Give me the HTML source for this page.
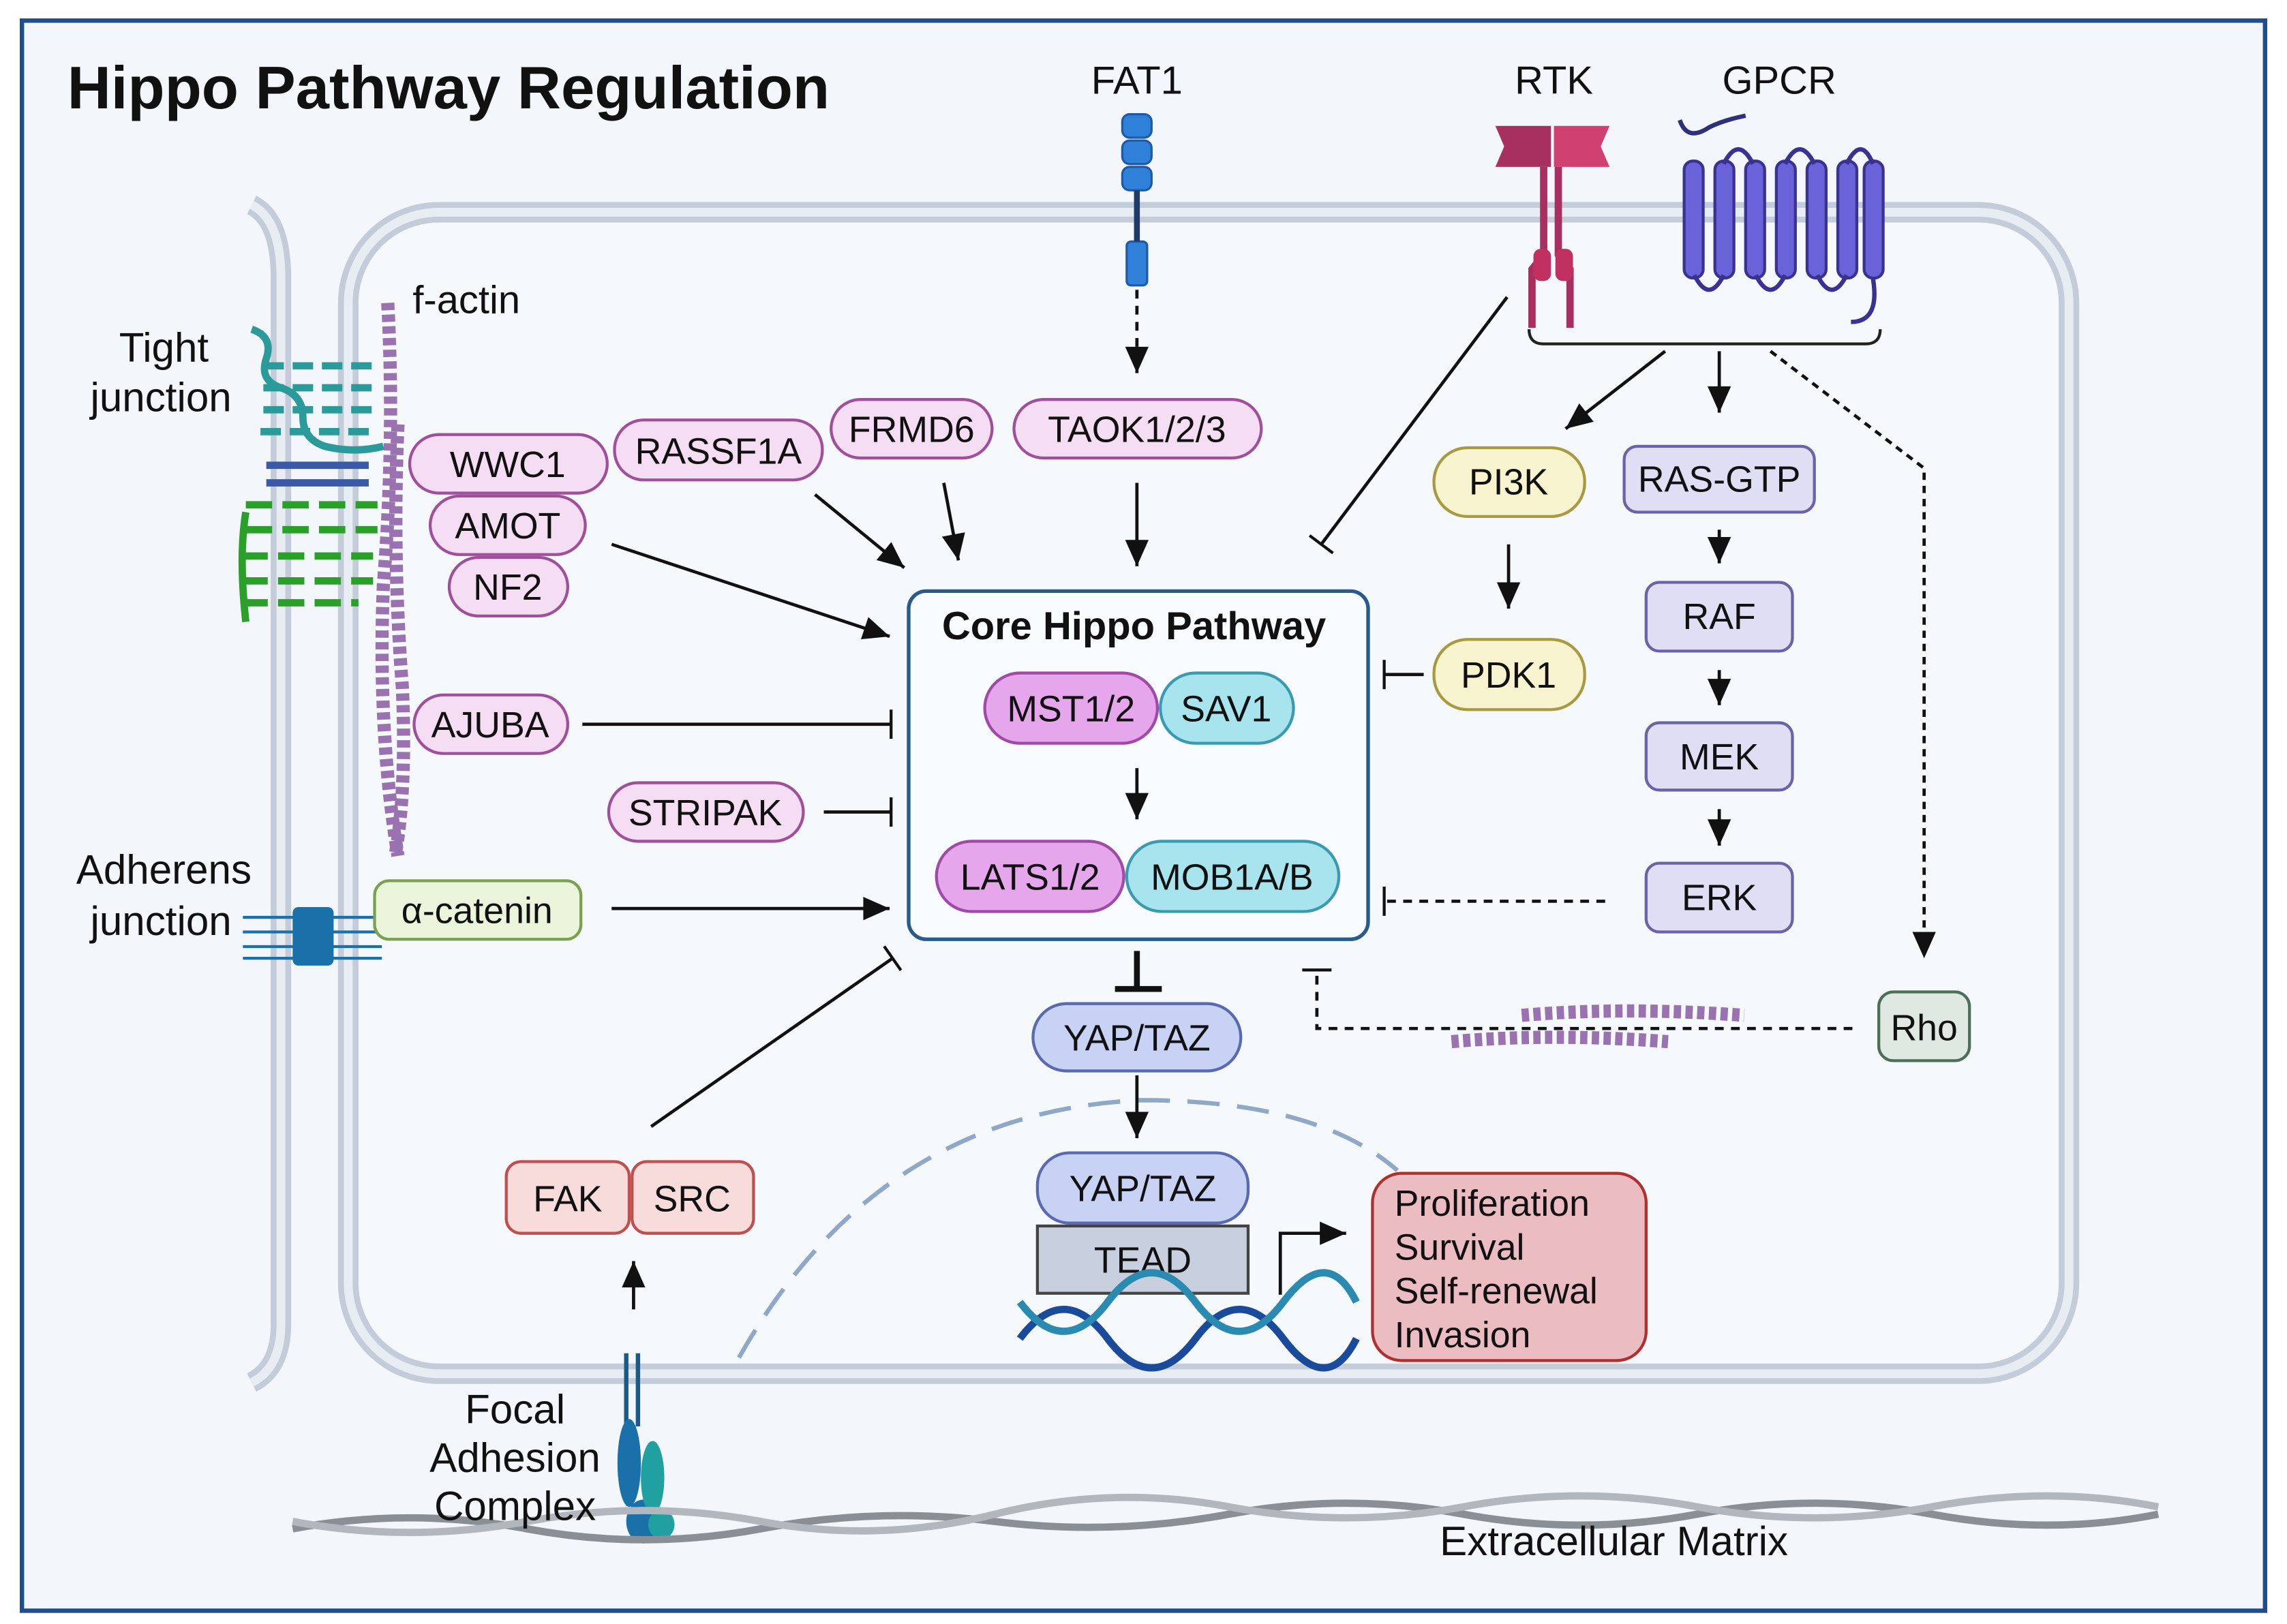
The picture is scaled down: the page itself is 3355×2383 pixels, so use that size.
<!DOCTYPE html>
<html><head><meta charset="utf-8"><style>
html,body{margin:0;padding:0;background:#fff}
svg{display:block}
text{font-family:"Liberation Sans",sans-serif;fill:#111}
</style></head><body>
<svg width="3355" height="2383" viewBox="0 0 1563 1110" xmlns="http://www.w3.org/2000/svg">
<defs>
<marker id="ar" viewBox="-2 -10 22 20" refX="18" refY="0" markerWidth="22" markerHeight="20" orient="auto" markerUnits="userSpaceOnUse"><path d="M0,-8 L18,0 L0,8 z" fill="#111"/></marker>
<marker id="t" viewBox="-2 -12 4 24" refX="0" refY="0" markerWidth="4" markerHeight="24" orient="auto" markerUnits="userSpaceOnUse"><path d="M0,-10 L0,10" stroke="#111" stroke-width="2"/></marker>
<clipPath id="c"><rect x="17" y="16" width="1529" height="1083"/></clipPath>
</defs>
<rect x="0" y="0" width="1563" height="1110" fill="#fff"/>
<rect x="15" y="14" width="1533" height="1087" fill="#f3f7fb" stroke="#1f4e8c" stroke-width="3"/>
<text x="46" y="74" font-size="41" font-weight="bold" textLength="521" lengthAdjust="spacingAndGlyphs">Hippo Pathway Regulation</text>

<path d="M172,140 Q192,150 192,190 L192,905 Q192,935 172,945" fill="none" stroke="#c3ccd8" stroke-width="14"/>
<path d="M172,140 Q192,150 192,190 L192,905 Q192,935 172,945" fill="none" stroke="#e8edf3" stroke-width="6"/>
<rect x="238" y="145" width="1176" height="794" rx="62" fill="#f6f9fc" stroke="#c3ccd8" stroke-width="14"/>
<rect x="238" y="145" width="1176" height="794" rx="62" fill="none" stroke="#e8edf3" stroke-width="6"/>

<path d="M505,928 Q600,760 780,752 Q900,752 955,800" fill="none" stroke="#8fa8c8" stroke-width="3" stroke-dasharray="22,12"/>

<g stroke="#9a72b0" stroke-width="9" stroke-dasharray="5,3" fill="none">
<path d="M265,207 Q270,300 262,400 Q258,500 272,585"/>
<path d="M272,290 Q268,380 275,470 Q278,540 270,585"/>
</g>
<text x="282" y="214" font-size="27">f-actin</text>

<g fill="none" stroke-width="5">
<path d="M172,225 q15,5 10,20 q-5,15 10,20 q15,5 15,20 q0,15 15,20 q20,5 40,0" stroke="#2a9a9a"/>
<path d="M180,250 h80 M180,265 h80 M180,280 h80 M178,295 h80" stroke="#2a9a9a" stroke-dasharray="14,6"/>
<path d="M168,345 h90 M168,362 h90 M165,380 h90 M165,397 h90 M165,412 h80" stroke="#2aa02a" stroke-dasharray="18,7"/>
<path d="M168,350 q-5,30 0,75" stroke="#2aa02a"/>
<path d="M182,318 h70 M182,330 h70" stroke="#3a5aa8"/>
</g>
<text x="112" y="247" font-size="28" text-anchor="middle">Tight</text>
<text x="110" y="281" font-size="28" text-anchor="middle">junction</text>
<g stroke="#1a70a8" stroke-width="2"><path d="M166,627 h95 M166,637 h95 M166,647 h95 M166,655 h95"/></g>
<g fill="#1a70a8"><rect x="200" y="620" width="28" height="40" rx="4"/></g>
<text x="112" y="604" font-size="28" text-anchor="middle">Adherens</text>
<text x="110" y="639" font-size="28" text-anchor="middle">junction</text>

<g fill="#2f80d8" stroke="#1f5aa8" stroke-width="1.5">
<rect x="767" y="78" width="20" height="16" rx="5"/><rect x="767" y="96" width="20" height="16" rx="5"/><rect x="767" y="114" width="20" height="16" rx="5"/>
<rect x="770" y="165" width="14" height="30" rx="3"/></g>
<line x1="777" y1="130" x2="777" y2="165" stroke="#1f3a68" stroke-width="4"/>
<text x="777" y="64" font-size="27" text-anchor="middle">FAT1</text>
<path d="M1022,86 h38 v28 h-38 l6,-14 z" fill="#a83060"/><path d="M1062,86 h38 l-6,14 l6,14 h-38z" fill="#d04070"/>
<g stroke="#a83060" stroke-width="5" fill="none"><path d="M1055,114 v60 l-8,10 v40 M1065,114 v60 l8,10 v40"/></g>
<rect x="1048" y="170" width="12" height="22" rx="5" fill="#c03060"/><rect x="1063" y="170" width="12" height="22" rx="5" fill="#c03060"/>
<text x="1062" y="64" font-size="27" text-anchor="middle">RTK</text>
<path d="M1148,82 q5,15 20,5 q10,-5 25,-8" fill="none" stroke="#30307a" stroke-width="3"/>
<g fill="#6a62d8" stroke="#3a3290" stroke-width="2">
<rect x="1151" y="110" width="13" height="80" rx="6"/><rect x="1172" y="110" width="13" height="80" rx="6"/><rect x="1193" y="110" width="13" height="80" rx="6"/><rect x="1214" y="110" width="13" height="80" rx="6"/><rect x="1235" y="110" width="13" height="80" rx="6"/><rect x="1256" y="110" width="13" height="80" rx="6"/><rect x="1274" y="110" width="13" height="80" rx="6"/></g>
<path d="M1158,188 q10,20 20,0 M1200,188 q10,20 20,0 M1242,188 q10,20 20,0 M1178,112 q10,-20 20,0 M1220,112 q10,-20 20,0 M1262,112 q10,-20 18,0 M1280,190 q5,30 -15,30" fill="none" stroke="#3a3290" stroke-width="3"/>
<text x="1216" y="64" font-size="27" text-anchor="middle">GPCR</text>
<path d="M1045,225 q0,10 10,10 h220 q10,0 10,-10" fill="none" stroke="#222" stroke-width="2"/>

<g stroke-width="2" font-size="25">
<g fill="#f5ddf3" stroke="#a0509a">
<rect x="280" y="297" width="135" height="40" rx="20"/><rect x="294" y="339" width="106" height="40" rx="20"/><rect x="307" y="381" width="81" height="40" rx="20"/>
<rect x="420" y="287" width="142" height="41" rx="20"/><rect x="568" y="273" width="110" height="40" rx="20"/><rect x="693" y="273" width="169" height="40" rx="20"/>
<rect x="283" y="475" width="105" height="40" rx="20"/><rect x="416" y="535" width="133" height="40" rx="20"/>
</g>
<rect x="256" y="602" width="141" height="40" rx="10" fill="#eaf5dc" stroke="#7aa050"/>
<rect x="980" y="306" width="103" height="47" rx="23" fill="#f8f4d0" stroke="#a89a40"/>
<rect x="980" y="437" width="103" height="48" rx="23" fill="#f8f4d0" stroke="#a89a40"/>
<g fill="#e0def5" stroke="#6a63a8">
<rect x="1110" y="305" width="130" height="45" rx="9"/><rect x="1125" y="398" width="100" height="47" rx="9"/><rect x="1125" y="494" width="100" height="46" rx="9"/><rect x="1125" y="590" width="100" height="47" rx="9"/>
</g>
<rect x="1284" y="678" width="62" height="47" rx="10" fill="#dfe9e2" stroke="#4d6f5a"/>
<rect x="621" y="404" width="314" height="238" rx="12" fill="#f8fbff" stroke="#2a5a8a" stroke-width="2.5"/>
<rect x="673" y="460" width="118" height="48" rx="24" fill="#e6a6ec" stroke="#a04aa8"/>
<rect x="793" y="460" width="91" height="48" rx="24" fill="#a8e4ee" stroke="#3a9ab0"/>
<rect x="640" y="575" width="128" height="48" rx="24" fill="#e6a6ec" stroke="#a04aa8"/>
<rect x="770" y="575" width="145" height="48" rx="24" fill="#a8e4ee" stroke="#3a9ab0"/>
<rect x="706" y="686" width="142" height="46" rx="23" fill="#c7d2f5" stroke="#5a6ab0"/>
<rect x="709" y="788" width="144" height="48" rx="22" fill="#c7d2f5" stroke="#5a6ab0"/>
<rect x="709" y="838" width="144" height="46" fill="#c8d0e0" stroke="#444"/>
<rect x="346" y="794" width="84" height="49" rx="10" fill="#f8dcdc" stroke="#c05050"/>
<rect x="432" y="794" width="83" height="49" rx="10" fill="#f8dcdc" stroke="#c05050"/>
<rect x="938" y="802" width="187" height="128" rx="20" fill="#ebbcc2" stroke="#b03030"/>
</g>
<g font-size="25" text-anchor="middle">
<text x="347" y="326">WWC1</text><text x="347" y="368">AMOT</text><text x="347" y="410">NF2</text>
<text x="491" y="317">RASSF1A</text><text x="623" y="302">FRMD6</text><text x="777" y="302">TAOK1/2/3</text>
<text x="335" y="504">AJUBA</text><text x="482" y="564">STRIPAK</text><text x="326" y="631">α-catenin</text>
<text x="1031" y="338">PI3K</text><text x="1031" y="470">PDK1</text>
<text x="1175" y="336">RAS-GTP</text><text x="1175" y="430">RAF</text><text x="1175" y="526">MEK</text><text x="1175" y="622">ERK</text>
<text x="1315" y="711">Rho</text>
<text x="775" y="437" font-weight="bold" font-size="27">Core Hippo Pathway</text>
<text x="732" y="493">MST1/2</text><text x="838" y="493">SAV1</text>
<text x="704" y="608">LATS1/2</text><text x="842" y="608">MOB1A/B</text>
<text x="777" y="718">YAP/TAZ</text><text x="781" y="821">YAP/TAZ</text><text x="781" y="870">TEAD</text>
<text x="388" y="828">FAK</text><text x="473" y="828">SRC</text>
</g>
<g font-size="25"><text x="953" y="831">Proliferation</text><text x="953" y="861">Survival</text><text x="953" y="891">Self-renewal</text><text x="953" y="921">Invasion</text></g>

<g stroke="#111" stroke-width="2.2" fill="none" marker-end="url(#ar)">
<path d="M777,198 V255" stroke-dasharray="6,5"/>
<path d="M777,330 V387"/>
<path d="M645,330 L655,383"/>
<path d="M557,338 L618,388"/>
<path d="M418,372 L608,435"/>
<path d="M418,621 H608"/>
<path d="M777,525 V560"/>
<path d="M777,735 V778"/>
<path d="M1138,240 L1070,293"/>
<path d="M1175,240 V282"/>
<path d="M1031,372 V416"/>
<path d="M1175,362 V385"/>
<path d="M1175,458 V482"/>
<path d="M1175,553 V578"/>
<path d="M1210,240 L1315,320 V655" stroke-dasharray="5,4"/>
<path d="M433,895 V862"/>
<path d="M875,885 V843 H920"/>
</g>
<g stroke="#111" stroke-width="2.2" fill="none" marker-end="url(#t)">
<path d="M398,495 H609"/>
<path d="M563,555 H609"/>
<path d="M1030,203 L903,372"/>
<path d="M973,461 H946"/>
<path d="M1097,616 H946" stroke-dasharray="6,5"/>
<path d="M445,770 L610,655"/>
<path d="M1266,703 H900 V663" stroke-dasharray="6,5"/>
</g>
<path d="M777,650 V676 M762,676 H794" stroke="#111" stroke-width="4"/>

<g stroke="#9a72b0" stroke-width="9" stroke-dasharray="5,3" fill="none">
<path d="M1040,694 Q1110,688 1192,694"/><path d="M992,712 Q1060,706 1140,712"/>
</g>

<g fill="none" stroke-width="5">
<path d="M697,915 q30,-40 60,0 t60,0 t60,0 t50,0" stroke="#1a4a9a"/>
<path d="M697,890 q30,40 60,0 t60,0 t60,0 t50,0" stroke="#2a8ab0"/>
</g>

<g stroke="#1a5a8a" stroke-width="3"><path d="M428,925 V975 M436,925 V975"/></g>
<g fill="#1a70a8"><ellipse cx="430" cy="1000" rx="8" ry="30"/><ellipse cx="440" cy="1040" rx="12" ry="15"/></g>
<g fill="#20a0a0"><ellipse cx="446" cy="1010" rx="8" ry="25"/><ellipse cx="452" cy="1042" rx="9" ry="10"/></g>

<g fill="none" stroke-width="5" clip-path="url(#c)">
<path d="M200,1045 q80,-15 160,0 t160,0 t160,-5 t160,-5 t160,0 t160,0 t160,0 t155,0" stroke="#8a8f96"/>
<path d="M200,1040 q80,15 160,0 t160,0 t160,-5 t160,-5 t160,0 t160,0 t160,0 t155,0" stroke="#b2b7bd"/>
</g>
<text x="352" y="973" font-size="28" text-anchor="middle">Focal</text>
<text x="352" y="1006" font-size="28" text-anchor="middle">Adhesion</text>
<text x="352" y="1039" font-size="28" text-anchor="middle">Complex</text>
<text x="984" y="1063" font-size="28">Extracellular Matrix</text>
</svg>
</body></html>
